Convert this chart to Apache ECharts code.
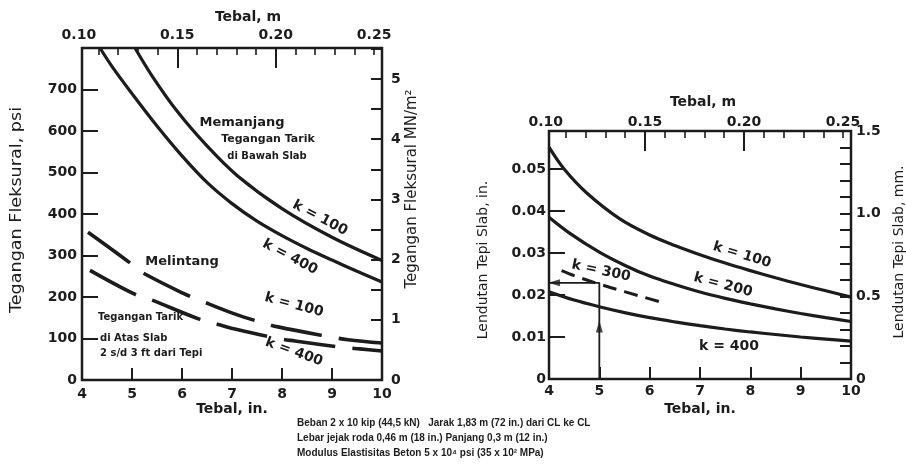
<!DOCTYPE html>
<html><head><meta charset="utf-8">
<script src="https://cdn.jsdelivr.net/npm/echarts@6/dist/echarts.min.js"></script>
<style>html,body{margin:0;padding:0;background:#fff}#c{width:906px;height:468px}</style>
</head><body><div id="c"></div>
<script>
// ---------- DATA (left panel: flexural stress, psi vs thickness, in.) ----------
const memanjangK100X = [5.06, 5.4, 5.9, 6.5, 7.1, 8.0, 9.0, 10];
const memanjangK100Y = [800, 733, 648, 564, 493, 413, 344, 288];
const memanjangK400X = [4.36, 4.62, 5.0, 5.5, 6.0, 6.5, 7.0, 7.5, 8.0, 8.5, 9.0, 9.5, 10];
const memanjangK400Y = [800, 752, 690, 612, 540, 476, 425, 383, 348, 317, 289, 262, 236];
const melintangK100X = [4.12, 4.94, 5.16, 6.04, 6.4, 7.08, 7.5, 7.92, 8.96, 9.32, 10];
const melintangK100Y = [356, 284, 262, 208, 190, 158, 142, 128, 104, 97, 89];
const melintangK400X = [4.16, 5.03, 5.39, 6.36, 6.75, 7.08, 7.92, 8.26, 9.26, 9.56, 10];
const melintangK400Y = [264, 208, 193, 146, 133, 122, 100, 94, 78, 75, 70];

// ---------- DATA (right panel: edge deflection, in. vs thickness, in.) ----------
const lendutanK100X = [4.0, 4.3, 4.75, 5.4, 6.0, 6.5, 7.0, 7.5, 8.0, 8.5, 9.0, 9.5, 10];
const lendutanK100Y = [0.0552, 0.0500, 0.0443, 0.0382, 0.0343, 0.0318, 0.0296, 0.0276, 0.0258, 0.0241, 0.0225, 0.0210, 0.0195];
const lendutanK200X = [4.0, 4.4, 5.0, 5.5, 6.0, 6.5, 7.0, 7.5, 8.0, 8.5, 9.0, 9.5, 10];
const lendutanK200Y = [0.0385, 0.0348, 0.0302, 0.0271, 0.0245, 0.0225, 0.0207, 0.0192, 0.0179, 0.0167, 0.0156, 0.0146, 0.0137];
const lendutanK300X = [4.25, 4.5, 5.0, 5.5, 6.2];
const lendutanK300Y = [0.0258, 0.0246, 0.0226, 0.0208, 0.0184];
const lendutanK400X = [4.0, 4.5, 5.0, 5.5, 6.0, 6.5, 7.0, 7.5, 8.0, 8.5, 9.0, 9.5, 10];
const lendutanK400Y = [0.0208, 0.0188, 0.0172, 0.0158, 0.0146, 0.0136, 0.0127, 0.0119, 0.0112, 0.0106, 0.0100, 0.0095, 0.0090];
const exampleArrowX = [5, 5, 4];
const exampleArrowY = [0, 0.0229, 0.0229];
const arrowHeadUp = [5, 0.0125];
const arrowHeadLeft = [4.1, 0.0229];

// ---------- AXES / TICKS ----------
const thicknessIn = [4, 10];
const thicknessMTicksMinor = [0.11,0.12,0.13,0.14,0.15,0.16,0.17,0.18,0.19,0.20,0.21,0.22,0.23,0.24,0.25];
const thicknessMTicksMajor = [0.15, 0.20];
const thicknessMLabels = [0.10, 0.15, 0.20, 0.25];
const psiMax = 800, psiStep = 100;
const psiPerMPa = 145.038;
const mmMax = 1.5, mmPerIn = 25.4;

// ---------- TEXT ----------
const footerLines = [
  'Beban 2 x 10 kip (44,5 kN)   Jarak 1,83 m (72 in.) dari CL ke CL',
  'Lebar jejak roda 0,46 m (18 in.) Panjang 0,3 m (12 in.)',
  'Modulus Elastisitas Beton 5 x 10\u2074 psi (35 x 10\u00b2 MPa)'
];

const INK = '#1c1c1c';
const FF = '"DejaVu Sans", sans-serif';
const zip = (xs, ys) => xs.map((x, i) => [x, ys[i]]);

const chart = echarts.init(document.getElementById('c'), null, {renderer: 'canvas'});

const L = {left: 82, top: 48, width: 300, height: 332};
const R = {left: 549, top: 131, width: 302, height: 248};
function metricGrid(p) {
  const pxPerM = p.width / ((thicknessIn[1] - thicknessIn[0]) * 0.0254);
  return {left: p.left + (0.10 - thicknessIn[0] * 0.0254) * pxPerM, top: p.top,
          width: 0.15 * pxPerM, height: p.height};
}
const LM = metricGrid(L), RM = metricGrid(R);
const border = {show: true, borderColor: INK, borderWidth: 2.5, backgroundColor: 'transparent'};

const lblStyle = (m) => ({color: INK, fontFamily: FF, fontWeight: 'bold', fontSize: 14, margin: m});
const tickStyle = (len, w) => ({show: true, inside: true, length: len, lineStyle: {color: INK, width: w || 2}});
const noLine = {show: false, onZero: false};

const xBottom = (gi, m) => ({gridIndex: gi, type: 'value', position: 'bottom', min: 4, max: 10, interval: 1,
  axisLine: noLine, splitLine: {show: false}, axisTick: tickStyle(12), axisLabel: lblStyle(m)});
const xTopLbl = (gi, m) => ({gridIndex: gi, type: 'value', position: 'top', min: 0.10, max: 0.25, interval: 0.05,
  axisLine: noLine, splitLine: {show: false},
  axisTick: Object.assign(tickStyle(7, 1.6), {customValues: thicknessMTicksMinor}),
  axisLabel: Object.assign(lblStyle(m), {customValues: thicknessMLabels, formatter: v => v.toFixed(2)})});
const xTopMaj = (gi) => ({gridIndex: gi, type: 'value', position: 'top', min: 0.10, max: 0.25, interval: 0.05,
  axisLine: noLine, splitLine: {show: false},
  axisTick: Object.assign(tickStyle(20, 2), {customValues: thicknessMTicksMajor}),
  axisLabel: {show: false}});
const yHidden = (gi) => ({gridIndex: gi, type: 'value', min: 1, max: 2, show: false, axisLine: noLine});

const solid = (name, xi, yi, data) => ({name, type: 'line', xAxisIndex: xi, yAxisIndex: yi, data,
  symbol: 'none', smooth: 0.35, lineStyle: {color: INK, width: 3.2}, silent: true, z: 3});
const dashed = (name, xi, yi, data, dash, w) => ({name, type: 'line', xAxisIndex: xi, yAxisIndex: yi, data,
  symbol: 'none', smooth: 0.35, lineStyle: {color: INK, width: w, type: dash, cap: 'butt'}, silent: true, z: 3});

function T(x, y, text, size, o) {
  o = o || {};
  return {type: 'text', x, y, rotation: (o.rot || 0) * Math.PI / 180, scaleX: o.sx || 1, z: 10,
    style: {text, fill: INK, font: (o.w || 'bold') + ' ' + size + 'px ' + (o.ff || FF),
      align: o.align || 'center', verticalAlign: 'middle', textAlign: o.align || 'center', textVerticalAlign: 'middle'}};
}

const option = {
  backgroundColor: '#ffffff',
  animation: false,
  grid: [
    Object.assign({}, L, border),
    Object.assign({}, LM, {show: false}),
    Object.assign({}, LM, {show: false}),
    Object.assign({}, R, border),
    Object.assign({}, RM, {show: false}),
    Object.assign({}, RM, {show: false})
  ],
  xAxis: [
    xBottom(0, 7), xTopLbl(1, 6), xTopMaj(2),
    xBottom(3, 5), xTopLbl(4, 2), xTopMaj(5)
  ],
  yAxis: [
    {gridIndex: 0, type: 'value', position: 'left', min: 0, max: psiMax, interval: psiStep,
      axisLine: noLine, splitLine: {show: false}, axisTick: tickStyle(16),
      axisLabel: Object.assign(lblStyle(5), {formatter: v => v >= psiMax ? '' : String(v)})},
    {gridIndex: 0, type: 'value', position: 'right', min: 0, max: psiMax / psiPerMPa, interval: 0.5,
      axisLine: noLine, splitLine: {show: false}, axisTick: tickStyle(11),
      axisLabel: Object.assign(lblStyle(9), {formatter: v => Math.abs(v - Math.round(v)) < 1e-6 && v <= 5 ? String(Math.round(v)) : ''})},
    yHidden(1), yHidden(2),
    {gridIndex: 3, type: 'value', position: 'left', min: 0, max: mmMax / mmPerIn, interval: 0.01,
      axisLine: noLine, splitLine: {show: false}, axisTick: tickStyle(16),
      axisLabel: Object.assign(lblStyle(3), {formatter: v => v === 0 ? '0' : (v > 0.055 ? '' : v.toFixed(2))})},
    {gridIndex: 3, type: 'value', position: 'right', min: 0, max: mmMax, interval: 0.1,
      axisLine: noLine, splitLine: {show: false}, axisTick: tickStyle(11),
      axisLabel: Object.assign(lblStyle(5), {formatter: v => {
        const r = Math.round(v * 10);
        if (r % 5 !== 0) return '';
        return r === 0 ? '0' : (r / 10).toFixed(1);
      }})},
    yHidden(4), yHidden(5)
  ],
  series: [
    solid('Memanjang k=100', 0, 0, zip(memanjangK100X, memanjangK100Y)),
    solid('Memanjang k=400', 0, 0, zip(memanjangK400X, memanjangK400Y)),
    dashed('Melintang k=100', 0, 0, zip(melintangK100X, melintangK100Y), [52, 17], 3.6),
    dashed('Melintang k=400', 0, 0, zip(melintangK400X, melintangK400Y), [52, 17], 3.6),
    solid('Lendutan k=100', 3, 4, zip(lendutanK100X, lendutanK100Y)),
    solid('Lendutan k=200', 3, 4, zip(lendutanK200X, lendutanK200Y)),
    dashed('Lendutan k=300', 3, 4, zip(lendutanK300X, lendutanK300Y), [14, 8], 3),
    solid('Lendutan k=400', 3, 4, zip(lendutanK400X, lendutanK400Y)),
    {name: 'arrow', type: 'line', xAxisIndex: 3, yAxisIndex: 4, data: zip(exampleArrowX, exampleArrowY),
      symbol: 'none', lineStyle: {color: INK, width: 1.8}, silent: true, z: 4},
    {name: 'arrowUp', type: 'scatter', xAxisIndex: 3, yAxisIndex: 4, data: [arrowHeadUp],
      symbol: 'triangle', symbolSize: [7, 12], itemStyle: {color: INK}, silent: true, z: 5},
    {name: 'arrowLeft', type: 'scatter', xAxisIndex: 3, yAxisIndex: 4, data: [arrowHeadLeft],
      symbol: 'triangle', symbolSize: [7, 12], symbolRotate: 90, itemStyle: {color: INK}, silent: true, z: 5}
  ],
  graphic: [
    T(248, 17, 'Tebal, m', 14),
    T(232, 409, 'Tebal, in.', 14),
    T(17, 210, 'Tegangan Fleksural, psi', 16, {rot: 90, w: 'normal', sx: 1.1}),
    T(412, 189, 'Tegangan Fleksural MN/m\u00b2', 15, {rot: 90, w: 'normal'}),
    T(242, 123, 'Memanjang', 13),
    T(268, 139, 'Tegangan Tarik', 11),
    T(267, 156, 'di Bawah Slab', 10),
    T(320, 218, 'k = 100', 14, {rot: -28}),
    T(290, 257, 'k = 400', 14, {rot: -28}),
    T(182, 262, 'Melintang', 13),
    T(294, 305, 'k = 100', 14, {rot: -15}),
    T(294, 352, 'k = 400', 14, {rot: -20}),
    T(98, 317, 'Tegangan Tarik', 10, {align: 'left'}),
    T(100, 338, 'di Atas Slab', 10, {align: 'left'}),
    T(100, 353, '2 s/d 3 ft dari Tepi', 10, {align: 'left'}),
    T(703, 102, 'Tebal, m', 14),
    T(700, 409, 'Tebal, in.', 14),
    T(483, 260, 'Lendutan Tepi Slab, in.', 14, {rot: 90, w: 'normal'}),
    T(899, 252, 'Lendutan Tepi Slab, mm.', 14, {rot: 90, w: 'normal'}),
    T(742, 255, 'k = 100', 14, {rot: -17}),
    T(723, 285, 'k = 200', 14, {rot: -15}),
    T(601, 271, 'k = 300', 14, {rot: -12}),
    T(729, 346, 'k = 400', 14),
    T(297, 423, footerLines[0], 10, {align: 'left', ff: '"Liberation Sans", Arial, sans-serif'}),
    T(297, 438, footerLines[1], 10, {align: 'left', ff: '"Liberation Sans", Arial, sans-serif'}),
    T(297, 453, footerLines[2], 10, {align: 'left', ff: '"Liberation Sans", Arial, sans-serif'})
  ]
};
chart.setOption(option);
</script></body></html>
